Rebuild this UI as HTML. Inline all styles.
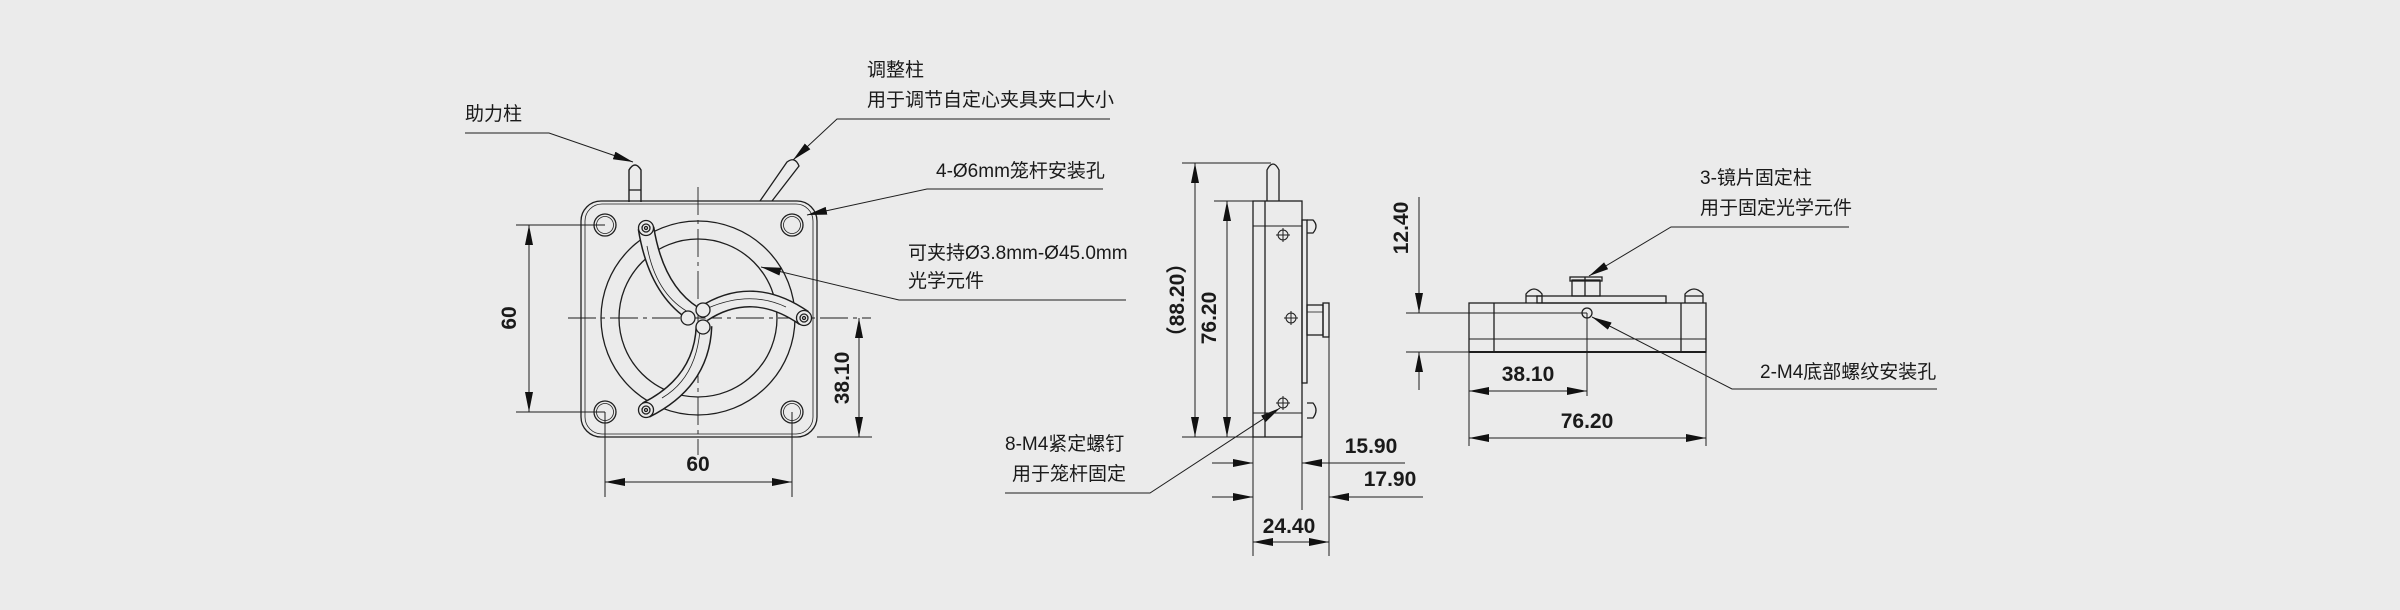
<!DOCTYPE html>
<html><head><meta charset="utf-8"><style>
html,body{margin:0;padding:0;background:#ebebeb;}
svg{display:block;}
text{font-family:"Liberation Sans Narrow","Liberation Sans","Noto Sans CJK SC",sans-serif;fill:#1a1a1a;}
.lb{font-family:"Liberation Sans Narrow","Liberation Sans","Noto Sans CJK SC",sans-serif;font-size:19px;}
.dm{font-size:21px;font-weight:bold;}
</style></head><body>
<svg width="2400" height="610" viewBox="0 0 2400 610" xmlns="http://www.w3.org/2000/svg">
<defs>
<marker id="a" viewBox="0 0 20 8" refX="20" refY="4" markerWidth="20" markerHeight="8" markerUnits="userSpaceOnUse" orient="auto-start-reverse"><path d="M0,0L20,4L0,8z" fill="#111"/></marker>
</defs>
<rect width="2400" height="610" fill="#ebebeb"/>
<g fill="none" stroke="#1e1e1e" stroke-width="1.3">
<!-- ===== FRONT VIEW ===== -->
<!-- posts -->
<path d="M629,202V170Q635,160 641,170V202" stroke-width="1.4"/>
<line x1="629" y1="190" x2="641" y2="190"/>
<path d="M760,201L787,162Q795,156 799,166L772,201"/>
<!-- plate -->
<rect x="581" y="201" width="236" height="236" rx="20"/>
<rect x="585" y="204" width="228" height="230" rx="17" stroke-width="0.8"/>
<!-- holes -->
<g>
<circle cx="605" cy="225" r="11"/><circle cx="605" cy="225" r="8.5" stroke-width="0.8"/>
<circle cx="792" cy="225" r="11"/><circle cx="792" cy="225" r="8.5" stroke-width="0.8"/>
<circle cx="605" cy="412" r="11"/><circle cx="605" cy="412" r="8.5" stroke-width="0.8"/>
<circle cx="792" cy="412" r="11"/><circle cx="792" cy="412" r="8.5" stroke-width="0.8"/>
</g>
<!-- ring -->
<circle cx="698" cy="318" r="97"/>
<circle cx="698" cy="318" r="79"/>
<!-- centerlines -->
<line x1="698" y1="187" x2="698" y2="455" stroke-width="0.9" stroke-dasharray="28,5,4,5"/>
<line x1="568" y1="318" x2="871" y2="318" stroke-width="0.9" stroke-dasharray="28,5,4,5"/>
<!-- arms -->
<g>
<path d="M646,228 Q656,290 694,314" stroke="#1e1e1e" stroke-width="17"/>
<path d="M646,228 Q656,290 694,314" stroke="#ebebeb" stroke-width="14"/>
<path d="M647,246 Q656,295 690,313" stroke-width="0.8"/>
<path d="M703,314 Q752,282 804,318" stroke="#1e1e1e" stroke-width="17"/>
<path d="M703,314 Q752,282 804,318" stroke="#ebebeb" stroke-width="14"/>
<path d="M708,308 Q750,290 786,307" stroke-width="0.8"/>
<path d="M704,326 Q702,382 646,410" stroke="#1e1e1e" stroke-width="17"/>
<path d="M704,326 Q702,382 646,410" stroke="#ebebeb" stroke-width="14"/>
<path d="M700,330 Q696,378 662,398" stroke-width="0.8"/>
<g fill="#ebebeb">
<circle cx="646" cy="228" r="7.5"/><circle cx="804" cy="318" r="7.5"/><circle cx="646" cy="410" r="7.5"/>
<circle cx="688" cy="318" r="7"/><circle cx="703" cy="310" r="7"/><circle cx="703" cy="327" r="7"/>
</g>
<circle cx="646" cy="228" r="4"/><circle cx="804" cy="318" r="4"/><circle cx="646" cy="410" r="4"/>
<circle cx="646" cy="228" r="1.5"/><circle cx="804" cy="318" r="1.5"/><circle cx="646" cy="410" r="1.5"/>
</g>
<!-- 60 vertical -->
<line x1="516" y1="225" x2="605" y2="225" stroke-width="1"/>
<line x1="516" y1="412" x2="605" y2="412" stroke-width="1"/>
<line x1="529" y1="225" x2="529" y2="412" marker-start="url(#a)" marker-end="url(#a)" stroke-width="1"/>
<!-- 60 horizontal -->
<line x1="605" y1="412" x2="605" y2="497" stroke-width="1"/>
<line x1="792" y1="412" x2="792" y2="497" stroke-width="1"/>
<line x1="605" y1="482" x2="792" y2="482" marker-start="url(#a)" marker-end="url(#a)" stroke-width="1"/>
<!-- 38.10 -->
<line x1="817" y1="437" x2="872" y2="437" stroke-width="1"/>
<line x1="859" y1="318" x2="859" y2="437" marker-start="url(#a)" marker-end="url(#a)" stroke-width="1"/>
<!-- leaders -->
<polyline points="465,133 549,133 633,162" stroke-width="1" marker-end="url(#a)"/>
<polyline points="1110,119 837,119 793,160" stroke-width="1" marker-end="url(#a)"/>
<polyline points="1103,189 927,189 807,215" stroke-width="1" marker-end="url(#a)"/>
<polyline points="1126,300 899,300 761,267" stroke-width="1" marker-end="url(#a)"/>
<polyline points="1005,493 1150,493 1280,408" stroke-width="1" marker-end="url(#a)"/>

<!-- ===== SIDE VIEW ===== -->
<path d="M1267,201V170Q1273,158 1279,170V201"/>
<rect x="1253" y="201" width="49" height="236"/>
<line x1="1265" y1="201" x2="1265" y2="437"/>
<line x1="1253" y1="226" x2="1302" y2="226" stroke-width="0.9"/>
<line x1="1253" y1="413" x2="1302" y2="413" stroke-width="0.9"/>
<rect x="1302" y="220" width="5" height="163"/>
<path d="M1307,220H1313Q1319,226 1313,233H1307"/>
<path d="M1307,403H1313Q1319,410 1313,418H1307"/>
<rect x="1307" y="305" width="16" height="30"/>
<rect x="1323" y="303" width="6" height="34"/>
<line x1="1307" y1="312" x2="1323" y2="312" stroke-width="0.8"/>
<g stroke-width="1">
<circle cx="1283" cy="235" r="5"/><path d="M1276,235H1290M1283,228V242"/>
<circle cx="1291" cy="318" r="5"/><path d="M1284,318H1298M1291,311V325"/>
<circle cx="1283" cy="403" r="5"/><path d="M1276,403H1290M1283,396V410"/>
</g>
<!-- dims side -->
<line x1="1182" y1="163" x2="1271" y2="163" stroke-width="1"/>
<line x1="1182" y1="437" x2="1253" y2="437" stroke-width="1"/>
<line x1="1214" y1="201" x2="1253" y2="201" stroke-width="1"/>
<line x1="1195" y1="163" x2="1195" y2="437" marker-start="url(#a)" marker-end="url(#a)" stroke-width="1"/>
<line x1="1227" y1="201" x2="1227" y2="437" marker-start="url(#a)" marker-end="url(#a)" stroke-width="1"/>
<line x1="1253" y1="437" x2="1253" y2="556" stroke-width="1"/>
<line x1="1302" y1="437" x2="1302" y2="510" stroke-width="1"/>
<line x1="1329" y1="337" x2="1329" y2="556" stroke-width="1"/>
<line x1="1212" y1="463" x2="1253" y2="463" stroke-width="1" marker-end="url(#a)"/>
<line x1="1405" y1="463" x2="1302" y2="463" stroke-width="1" marker-end="url(#a)"/>
<line x1="1212" y1="497" x2="1253" y2="497" stroke-width="1" marker-end="url(#a)"/>
<line x1="1423" y1="497" x2="1329" y2="497" stroke-width="1" marker-end="url(#a)"/>
<line x1="1253" y1="542" x2="1329" y2="542" stroke-width="1" marker-start="url(#a)" marker-end="url(#a)"/>

<!-- ===== TOP VIEW ===== -->
<rect x="1469" y="303" width="237" height="49"/>
<line x1="1494" y1="303" x2="1494" y2="352"/>
<line x1="1681" y1="303" x2="1681" y2="352"/>
<line x1="1469" y1="339" x2="1706" y2="339" stroke-width="0.9"/>
<line x1="1469" y1="352" x2="1706" y2="352" stroke-width="2"/>
<rect x="1537" y="296" width="129" height="7"/>
<path d="M1526,303V294Q1534,284 1542,294V303"/><line x1="1526" y1="296" x2="1542" y2="296"/>
<path d="M1685,303V294Q1694,284 1703,294V303"/><line x1="1685" y1="296" x2="1703" y2="296"/>
<rect x="1572" y="280" width="28" height="16"/>
<rect x="1570" y="277" width="32" height="4"/>
<line x1="1585" y1="277" x2="1585" y2="296"/>
<circle cx="1587" cy="313" r="5"/>
<!-- dims top -->
<line x1="1406" y1="313" x2="1587" y2="313" stroke-width="1"/>
<line x1="1406" y1="352" x2="1469" y2="352" stroke-width="1"/>
<line x1="1419" y1="197" x2="1419" y2="313" stroke-width="1" marker-end="url(#a)"/>
<line x1="1419" y1="390" x2="1419" y2="352" stroke-width="1" marker-end="url(#a)"/>
<line x1="1587" y1="313" x2="1587" y2="396" stroke-width="1"/>
<line x1="1469" y1="352" x2="1469" y2="446" stroke-width="1"/>
<line x1="1706" y1="352" x2="1706" y2="446" stroke-width="1"/>
<line x1="1469" y1="391" x2="1587" y2="391" stroke-width="1" marker-start="url(#a)" marker-end="url(#a)"/>
<line x1="1469" y1="438" x2="1706" y2="438" stroke-width="1" marker-start="url(#a)" marker-end="url(#a)"/>
<polyline points="1849,227 1671,227 1589,276" stroke-width="1" marker-end="url(#a)"/>
<polyline points="1937,389 1732,389 1592,317" stroke-width="1" marker-end="url(#a)"/>
</g>

<!-- TEXT -->
<g class="lb">
<text x="465" y="120">助力柱</text>
<text x="867" y="76">调整柱</text>
<text x="867" y="106">用于调节自定心夹具夹口大小</text>
<text x="936" y="177">4-Ø6mm笼杆安装孔</text>
<text x="908" y="259">可夹持Ø3.8mm-Ø45.0mm</text>
<text x="908" y="287">光学元件</text>
<text x="1005" y="450">8-M4紧定螺钉</text>
<text x="1012" y="480">用于笼杆固定</text>
<text x="1700" y="184">3-镜片固定柱</text>
<text x="1700" y="214">用于固定光学元件</text>
<text x="1760" y="378">2-M4底部螺纹安装孔</text>
</g>
<g class="dm" text-anchor="middle">
<text transform="translate(516,318) rotate(-90)">60</text>
<text x="698" y="471">60</text>
<text transform="translate(849,378) rotate(-90)">38.10</text>
<text transform="translate(1184,300) rotate(-90)">（88.20）</text>
<text transform="translate(1216,318) rotate(-90)">76.20</text>
<text x="1371" y="453">15.90</text>
<text x="1390" y="486">17.90</text>
<text x="1289" y="533">24.40</text>
<text transform="translate(1408,228) rotate(-90)">12.40</text>
<text x="1528" y="381">38.10</text>
<text x="1587" y="428">76.20</text>
</g>
</svg>
</body></html>
